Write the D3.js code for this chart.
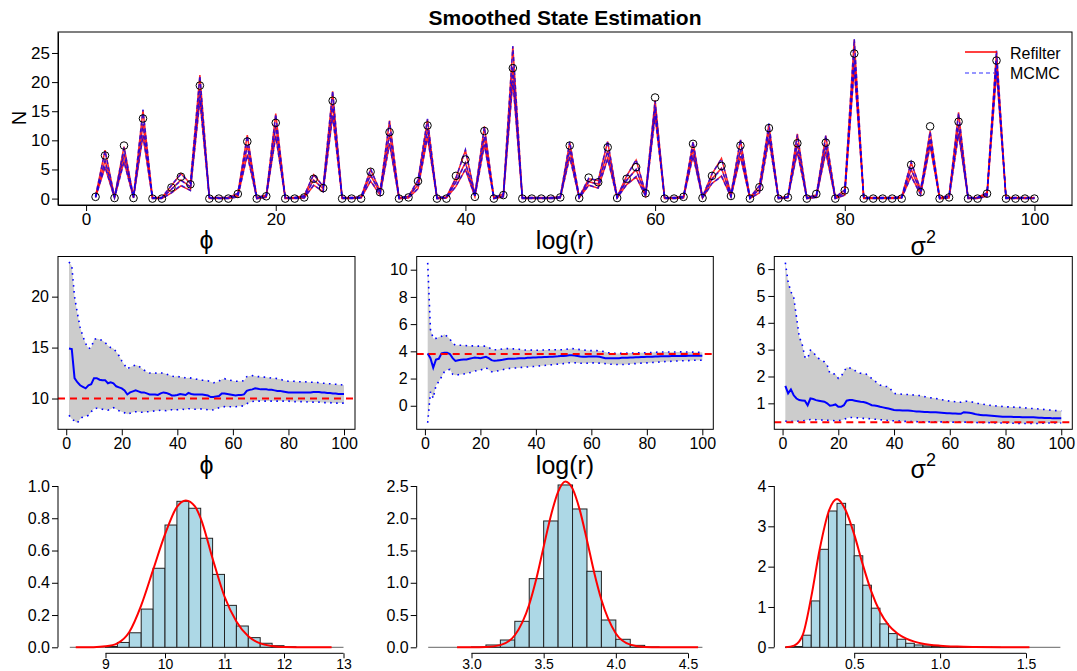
<!DOCTYPE html>
<html><head><meta charset="utf-8">
<script src="https://cdn.jsdelivr.net/npm/d3@7"></script>
<style>
body{margin:0;background:#fff}
text{font-family:"Liberation Sans",Arial,"DejaVu Sans",sans-serif;fill:#000}
.ax17 text{font-size:17px}
.ax16 text{font-size:16px}
.ax14 text{font-size:14px}
</style>
</head><body>
<svg id="c" width="1077" height="671"></svg>
<script>
// ---------- DATA ----------
const timeSteps = d3.range(1, 101);
const observedN = [0.3,7.4,0.1,9.1,0.1,13.75,0,0,1.9,3.75,
 2.45,19.4,0,0,0,0.8,9.8,0,0.4,13.0,
 0,0,0.2,3.4,1.8,16.8,0,0,0,4.6,
 1.1,11.4,0,0.2,3.0,12.55,0,0,3.9,6.7,
 0.3,11.6,0,0.6,22.4,0,0,0,0,0.2,
 9.1,0.1,3.6,2.8,8.8,0.1,3.4,5.4,0.9,17.35,
 0,0,0.3,9.4,0.1,3.9,5.6,0.45,9.1,0,
 1.95,12.1,0,0.2,9.5,0,0.8,9.6,0,1.4,
 24.9,0,0,0,0,0,5.8,1.1,12.4,0,
 0.2,13.2,0,0,0.85,23.7,0,0,0,0];
const refilterMean = [0.3,6.6,0.2,7.6,0.2,12.8,0.1,0.1,1.6,3.2,
 2.0,18.7,0.1,0.1,0.1,0.6,9.2,0.1,0.4,12.6,
 0.1,0.1,0.3,3.2,1.7,16.2,0.1,0.1,0.2,4.0,
 1.0,11.2,0.1,0.3,2.4,12.0,0.1,0.2,2.9,6.2,
 0.5,10.6,0.1,0.5,22.6,0.1,0.1,0.1,0.1,0.2,
 8.4,0.2,2.9,2.5,8.2,0.2,3.2,5.0,0.6,15.5,
 0.1,0.1,0.3,8.5,0.2,3.4,5.2,0.5,8.4,0.1,
 1.6,11.6,0.1,0.2,9.5,0.1,0.4,9.3,0.1,1.0,
 24.2,0.1,0.1,0.1,0.1,0.2,5.0,1.1,10.2,0.1,
 0.3,12.8,0.1,0.1,0.7,23.6,0.1,0.1,0.1,0.1];
const refilterHi = [0.4,8.3,0.3,8.9,0.3,15.2,0.2,0.2,2.2,4.3,
 2.6,21.2,0.2,0.2,0.2,0.9,10.9,0.2,0.6,14.6,
 0.2,0.2,0.5,4.1,2.1,18.4,0.2,0.2,0.3,5.0,
 1.3,13.4,0.2,0.4,3.1,13.6,0.2,0.3,3.6,8.3,
 0.7,12.4,0.2,0.8,26.1,0.2,0.2,0.2,0.2,0.3,
 9.7,0.3,3.4,3.1,9.8,0.3,3.9,6.6,0.9,16.9,
 0.2,0.2,0.4,9.7,0.3,4.2,6.9,0.8,10.1,0.2,
 2.2,12.8,0.2,0.3,11.1,0.2,0.6,10.8,0.2,1.5,
 27.3,0.2,0.2,0.2,0.2,0.3,6.2,1.5,11.6,0.2,
 0.5,14.8,0.2,0.2,1.0,25.3,0.2,0.2,0.2,0.2];
const refilterLo = [0.2,5.4,0.1,6.4,0.1,10.8,0,0,1.0,2.2,
 1.4,16.9,0,0,0,0.3,7.6,0,0.2,10.8,
 0,0,0.1,2.3,1.2,14.3,0,0,0.1,3.0,
 0.6,9.5,0,0.1,1.7,10.6,0,0.1,2.1,5.0,
 0.3,9.3,0,0.3,20.2,0,0,0,0,0.1,
 7.2,0.1,2.3,1.8,6.9,0.1,2.4,3.7,0.4,14.2,
 0,0,0.1,7.4,0.1,2.6,3.9,0.3,7.2,0,
 1.0,10.3,0,0.1,8.1,0,0.2,8.0,0,0.6,
 22.4,0,0,0,0,0.1,3.9,0.7,9.1,0,
 0.1,11.2,0,0,0.4,21.8,0,0,0,0];
const mcmcMean = [0.3,6.5,0.2,7.7,0.2,12.9,0.1,0.1,1.6,3.1,
 2.0,18.6,0.1,0.1,0.1,0.6,9.1,0.1,0.4,12.5,
 0.1,0.1,0.3,3.1,1.7,16.3,0.1,0.1,0.2,4.1,
 1.0,11.1,0.1,0.3,2.5,12.1,0.1,0.2,2.8,6.1,
 0.5,10.7,0.1,0.5,22.7,0.1,0.1,0.1,0.1,0.2,
 8.3,0.2,2.9,2.4,8.1,0.2,3.1,5.0,0.6,15.6,
 0.1,0.1,0.3,8.4,0.2,3.3,5.1,0.5,8.5,0.1,
 1.6,11.5,0.1,0.2,9.4,0.1,0.4,9.2,0.1,1.0,
 24.3,0.1,0.1,0.1,0.1,0.2,5.1,1.1,10.3,0.1,
 0.3,12.7,0.1,0.1,0.7,23.5,0.1,0.1,0.1,0.1];
const mcmcHi = [0.4,8.2,0.3,8.8,0.3,15.3,0.2,0.2,2.3,4.2,
 2.7,21.1,0.2,0.2,0.2,0.9,10.8,0.2,0.6,14.5,
 0.2,0.2,0.5,4.2,2.1,18.5,0.2,0.2,0.3,5.1,
 1.3,13.3,0.2,0.4,3.2,13.7,0.2,0.3,3.5,8.4,
 0.7,12.3,0.2,0.8,26.2,0.2,0.2,0.2,0.2,0.3,
 9.8,0.3,3.5,3.1,9.9,0.3,3.8,6.7,0.9,16.8,
 0.2,0.2,0.4,9.8,0.3,4.3,6.8,0.8,10.2,0.2,
 2.2,12.9,0.2,0.3,11.0,0.2,0.6,10.9,0.2,1.5,
 27.4,0.2,0.2,0.2,0.2,0.3,6.3,1.5,11.5,0.2,
 0.5,14.7,0.2,0.2,1.0,25.4,0.2,0.2,0.2,0.2];
const mcmcLo = [0.2,5.5,0.1,6.3,0.1,10.9,0,0,1.0,2.3,
 1.4,17.0,0,0,0,0.3,7.5,0,0.2,10.7,
 0,0,0.1,2.3,1.2,14.2,0,0,0.1,3.1,
 0.6,9.4,0,0.1,1.7,10.7,0,0.1,2.1,5.1,
 0.3,9.2,0,0.3,20.3,0,0,0,0,0.1,
 7.1,0.1,2.3,1.8,6.8,0.1,2.4,3.8,0.4,14.1,
 0,0,0.1,7.3,0.1,2.6,3.8,0.3,7.3,0,
 1.0,10.2,0,0.1,8.0,0,0.2,8.1,0,0.6,
 22.5,0,0,0,0,0.1,3.8,0.7,9.2,0,
 0.1,11.1,0,0,0.4,21.9,0,0,0,0];

// parameter traces (mean, upper, lower) over time
const phiMean = [14.9,14.85,12.0,11.6,11.3,11.15,11.0,11.3,11.4,12.0,
 12.0,11.85,11.8,11.8,11.5,11.6,11.5,11.2,11.1,11.0,
 10.8,10.4,10.6,10.7,10.8,10.7,10.6,10.6,10.5,10.4,
 10.4,10.4,10.35,10.5,10.6,10.55,10.45,10.3,10.3,10.35,
 10.45,10.4,10.35,10.55,10.45,10.4,10.4,10.4,10.4,10.35,
 10.3,10.15,10.15,10.2,10.25,10.5,10.5,10.45,10.4,10.35,
 10.3,10.35,10.35,10.4,10.75,10.85,10.9,11.0,10.95,10.9,
 10.9,10.9,10.85,10.85,10.8,10.75,10.75,10.7,10.65,10.6,
 10.6,10.6,10.6,10.6,10.6,10.6,10.6,10.6,10.65,10.65,
 10.65,10.6,10.6,10.55,10.55,10.5,10.5,10.45,10.45,10.45];
const phiHi = [23.4,23.0,20.0,18.4,17.0,16.1,15.4,14.9,15.0,15.8,
 15.9,15.8,15.7,15.5,15.2,15.0,14.9,14.6,14.2,13.7,
 13.3,12.9,13.1,13.2,13.3,13.2,13.0,12.8,12.6,12.5,
 12.5,12.5,12.45,12.5,12.5,12.4,12.3,12.2,12.15,12.2,
 12.1,12.1,12.0,12.05,12.0,11.95,11.9,11.85,11.8,11.8,
 11.75,11.65,11.55,11.6,11.7,11.9,11.95,11.85,11.8,11.75,
 11.7,11.7,11.7,11.75,12.15,12.2,12.25,12.2,12.15,12.15,
 12.1,12.1,12.05,12.0,12.0,11.95,11.9,11.8,11.75,11.7,
 11.7,11.7,11.65,11.65,11.65,11.65,11.6,11.6,11.6,11.6,
 11.55,11.5,11.5,11.45,11.45,11.4,11.4,11.35,11.35,11.3];
const phiLo = [8.35,8.0,7.8,7.6,8.0,8.2,8.25,8.35,8.7,9.0,
 9.05,9.0,8.95,8.9,8.85,8.95,9.1,8.95,8.8,8.7,
 8.6,8.45,8.55,8.65,8.7,8.7,8.65,8.65,8.7,8.7,
 8.75,8.8,8.8,8.85,8.85,8.8,8.85,8.9,8.85,8.9,
 8.95,8.95,8.9,9.0,9.0,8.95,8.95,9.0,8.95,8.95,
 8.9,8.85,8.9,9.0,9.1,9.15,9.2,9.15,9.2,9.2,
 9.2,9.25,9.25,9.3,9.5,9.6,9.7,9.75,9.75,9.75,
 9.75,9.75,9.75,9.75,9.75,9.75,9.75,9.75,9.75,9.75,
 9.7,9.7,9.7,9.7,9.7,9.7,9.65,9.65,9.65,9.65,
 9.65,9.6,9.6,9.6,9.6,9.55,9.55,9.55,9.55,9.55];
const logrMean = [3.85,3.5,2.8,3.4,3.45,3.85,3.9,3.9,3.8,3.5,
 3.3,3.35,3.38,3.4,3.4,3.45,3.5,3.55,3.52,3.5,
 3.55,3.6,3.5,3.35,3.3,3.32,3.35,3.38,3.42,3.45,
 3.45,3.45,3.47,3.5,3.5,3.5,3.52,3.53,3.55,3.55,
 3.56,3.57,3.58,3.58,3.6,3.6,3.62,3.63,3.65,3.65,
 3.68,3.72,3.72,3.7,3.66,3.62,3.6,3.6,3.62,3.62,
 3.62,3.62,3.6,3.55,3.5,3.5,3.5,3.5,3.5,3.5,
 3.52,3.52,3.53,3.54,3.55,3.56,3.57,3.58,3.59,3.6,
 3.6,3.61,3.62,3.62,3.63,3.63,3.64,3.64,3.65,3.65,
 3.65,3.66,3.66,3.66,3.67,3.67,3.67,3.67,3.67,3.67];
const logrHi = [10.5,5.6,4.95,4.95,5.05,5.1,5.25,5.1,4.9,4.6,
 4.45,4.45,4.45,4.45,4.42,4.4,4.4,4.4,4.38,4.38,
 4.38,4.38,4.3,4.15,4.12,4.12,4.15,4.18,4.2,4.2,
 4.2,4.18,4.15,4.15,4.12,4.1,4.1,4.1,4.08,4.08,
 4.08,4.1,4.1,4.1,4.12,4.12,4.12,4.12,4.12,4.12,
 4.15,4.18,4.2,4.18,4.15,4.12,4.1,4.08,4.06,4.05,
 4.05,4.05,4.03,4.0,3.95,3.9,3.88,3.86,3.85,3.85,
 3.85,3.86,3.87,3.88,3.88,3.89,3.9,3.9,3.9,3.9,
 3.9,3.92,3.93,3.94,3.95,3.95,3.95,3.95,3.95,3.95,
 3.95,3.96,3.96,3.95,3.95,3.94,3.94,3.93,3.93,3.93];
const logrLo = [-1.25,1.03,0.55,1.5,1.76,2.13,2.5,2.62,2.67,2.32,
 2.25,2.28,2.3,2.33,2.38,2.42,2.48,2.55,2.6,2.62,
 2.7,2.8,2.65,2.5,2.5,2.55,2.6,2.65,2.7,2.74,
 2.75,2.77,2.78,2.8,2.82,2.84,2.85,2.87,2.88,2.9,
 2.92,2.94,2.96,2.98,3.0,3.02,3.04,3.06,3.08,3.1,
 3.12,3.16,3.18,3.16,3.14,3.13,3.12,3.12,3.14,3.15,
 3.15,3.14,3.13,3.12,3.1,3.07,3.05,3.04,3.03,3.03,
 3.03,3.04,3.05,3.07,3.09,3.1,3.12,3.13,3.14,3.15,
 3.16,3.18,3.2,3.21,3.22,3.24,3.25,3.26,3.27,3.28,
 3.29,3.3,3.31,3.32,3.32,3.33,3.34,3.34,3.35,3.35];
const s2Mean = [1.65,1.37,1.52,1.3,1.18,1.12,1.11,1.1,0.93,1.18,
 1.16,1.12,1.1,1.08,1.06,1.0,0.91,0.93,0.96,0.87,
 0.87,0.93,1.1,1.12,1.12,1.1,1.08,1.06,1.05,1.02,
 0.98,0.93,0.92,0.9,0.87,0.85,0.83,0.81,0.78,0.75,
 0.74,0.74,0.73,0.73,0.73,0.72,0.71,0.7,0.7,0.69,
 0.68,0.68,0.67,0.67,0.67,0.66,0.65,0.64,0.63,0.63,
 0.62,0.62,0.61,0.61,0.67,0.66,0.65,0.63,0.6,0.58,
 0.57,0.56,0.56,0.55,0.54,0.53,0.52,0.51,0.5,0.5,
 0.5,0.5,0.49,0.49,0.49,0.48,0.48,0.48,0.48,0.48,
 0.47,0.46,0.46,0.45,0.45,0.45,0.44,0.44,0.44,0.44];
const s2Hi = [6.24,5.52,5.15,4.96,4.22,3.47,3.22,2.73,2.67,2.98,
 2.92,2.75,2.67,2.6,2.55,2.43,2.11,2.1,2.09,1.93,
 2.0,2.18,2.34,2.32,2.3,2.22,2.14,2.12,2.1,2.09,
 2.0,1.93,1.85,1.75,1.68,1.65,1.63,1.62,1.5,1.37,
 1.36,1.35,1.34,1.33,1.33,1.32,1.31,1.3,1.29,1.28,
 1.25,1.23,1.21,1.2,1.18,1.16,1.14,1.12,1.1,1.08,
 1.07,1.06,1.05,1.04,1.06,1.08,1.07,1.05,1.02,1.0,
 0.99,0.97,0.95,0.93,0.92,0.91,0.9,0.89,0.88,0.87,
 0.87,0.86,0.86,0.85,0.85,0.84,0.83,0.82,0.81,0.81,
 0.8,0.79,0.78,0.77,0.76,0.75,0.74,0.73,0.73,0.72];
const s2Lo = [0.34,0.31,0.32,0.33,0.33,0.34,0.35,0.36,0.38,0.4,
 0.4,0.39,0.38,0.38,0.37,0.37,0.36,0.36,0.35,0.35,
 0.37,0.4,0.44,0.47,0.47,0.47,0.46,0.45,0.44,0.44,
 0.43,0.42,0.41,0.4,0.39,0.38,0.37,0.36,0.35,0.35,
 0.34,0.34,0.33,0.33,0.33,0.32,0.32,0.32,0.31,0.31,
 0.31,0.31,0.31,0.31,0.31,0.31,0.31,0.31,0.31,0.31,
 0.3,0.3,0.3,0.3,0.3,0.3,0.3,0.29,0.29,0.28,
 0.28,0.28,0.28,0.28,0.27,0.27,0.27,0.27,0.27,0.27,
 0.26,0.26,0.26,0.26,0.25,0.25,0.25,0.25,0.25,0.25,
 0.25,0.25,0.26,0.26,0.27,0.27,0.27,0.27,0.27,0.27];
const trueValues = [10, 3.8, 0.3];

// histograms (breaks + density heights) and density curves
const phiBreaks = [8.4,8.6,8.8,9.0,9.2,9.4,9.6,9.8,10.0,10.2,10.4,10.6,10.8,11.0,11.2,11.4,11.6,11.8,12.0,12.2,12.4,12.6,12.8,13.0];
const phiDensity = [0,0,0,0.005,0.03,0.09,0.237,0.49,0.758,0.905,0.862,0.676,0.452,0.26,0.132,0.06,0.025,0.01,0.003,0,0,0,0];
const phiCurveX = [8.5,8.8,9.0,9.2,9.4,9.6,9.8,10.0,10.2,10.35,10.5,10.6,10.8,11.0,11.2,11.4,11.6,11.8,12.0,12.4,12.8];
const phiCurveY = [0,0.001,0.006,0.025,0.095,0.26,0.48,0.7,0.87,0.91,0.875,0.8,0.55,0.315,0.16,0.068,0.024,0.008,0.002,0,0];
const logrBreaks = [2.7,2.8,2.9,3.0,3.1,3.2,3.3,3.4,3.5,3.6,3.7,3.8,3.9,4.0,4.1,4.2,4.3,4.4,4.5,4.6];
const logrDensity = [0,0,0,0.005,0.036,0.113,0.403,1.064,1.958,2.516,2.144,1.178,0.423,0.124,0.03,0.005,0,0,0];
const logrCurveX = [2.9,3.0,3.1,3.2,3.3,3.4,3.45,3.5,3.55,3.6,3.65,3.7,3.75,3.8,3.85,3.9,4.0,4.1,4.2,4.3,4.57];
const logrCurveY = [0,0.0003,0.004,0.034,0.187,0.664,1.07,1.56,2.04,2.41,2.57,2.46,2.13,1.66,1.16,0.737,0.215,0.042,0.005,0.0003,0];
const s2Breaks = [0.1,0.15,0.2,0.25,0.3,0.35,0.4,0.45,0.5,0.55,0.6,0.65,0.7,0.75,0.8,0.85,0.9,0.95,1.0,1.05,1.1,1.15,1.2,1.25,1.3,1.35,1.4,1.45,1.5,1.55,1.6,1.65,1.7];
const s2Density = [0.005,0.02,0.3,1.15,2.43,3.38,3.57,3.04,2.27,1.54,0.97,0.58,0.34,0.2,0.1,0.058,0.033,0.02,0.01,0.006,0.004,0.003,0.002,0.001,0.001,0,0,0,0,0,0,0];
const s2CurveX = [0.1,0.15,0.2,0.25,0.3,0.35,0.4,0.45,0.5,0.55,0.6,0.65,0.7,0.75,0.8,0.85,0.9,1.0,1.1,1.2,1.35,1.52];
const s2CurveY = [0,0.04,0.3,1.25,2.45,3.35,3.68,3.4,2.8,2.05,1.38,0.88,0.55,0.35,0.22,0.14,0.09,0.04,0.018,0.008,0.002,0];

const topYTicks = [0,5,10,15,20,25];
const timeTicks = [0,20,40,60,80,100];
const phiTraceTicks = [10,15,20];
const logrTraceTicks = [0,2,4,6,8,10];
const s2TraceTicks = [1,2,3,4,5,6];
const phiHistXTicks = [9,10,11,12,13];
const phiHistYTicks = [0,0.2,0.4,0.6,0.8,1.0];
const logrHistXTicks = [3.0,3.5,4.0,4.5];
const logrHistYTicks = [0,0.5,1.0,1.5,2.0,2.5];
const s2HistXTicks = [0.5,1.0,1.5];
const s2HistYTicks = [0,1,2,3,4];
const legendLabels = ["Refilter","MCMC"];

// ---------- DRAW ----------
const svg = d3.select("#c");
const RED = "#FF0000", BLUE = "#0000FF";

function styleAxis(g, cls){
  g.attr("font-size", null).attr("font-family", null).attr("class", cls);
  g.selectAll("line").attr("stroke", "#000");
  g.selectAll("path").attr("stroke", "#000");
}

// ===== Top panel =====
const tx = d3.scaleLinear().domain([-2.96, 103.96]).range([58, 1072]);
const ty = d3.scaleLinear().domain([-1.1, 28.6]).range([205, 32]);

svg.append("text").attr("x", 565).attr("y", 25).attr("text-anchor","middle")
  .style("font-size","21px").style("font-weight","bold").text("Smoothed State Estimation");

const gTopY = svg.append("g").attr("transform","translate(58,0)")
  .call(d3.axisLeft(ty).tickValues(topYTicks).tickSize(6).tickPadding(2).tickSizeOuter(0));
styleAxis(gTopY, "ax17");
const gTopX = svg.append("g").attr("transform","translate(0,205)")
  .call(d3.axisBottom(tx).tickValues(timeTicks).tickSize(6).tickPadding(2).tickSizeOuter(0));
styleAxis(gTopX, "ax17");

svg.append("text").attr("transform","translate(26,118) rotate(-90)").attr("text-anchor","middle")
  .style("font-size","20px").text("N");

const topLine = arr => d3.line().x((d,i)=>tx(timeSteps[i])).y(d=>ty(d))(arr);
[refilterLo, refilterMean, refilterHi].forEach(arr=>{
  svg.append("path").attr("d", topLine(arr)).attr("fill","none")
    .attr("stroke", RED).attr("stroke-opacity",0.85).attr("stroke-width",1.5);
});
[mcmcLo, mcmcMean, mcmcHi].forEach(arr=>{
  svg.append("path").attr("d", topLine(arr)).attr("fill","none")
    .attr("stroke", BLUE).attr("stroke-opacity",0.75).attr("stroke-width",1.5)
    .attr("stroke-dasharray","4,3");
});
svg.append("g").selectAll("circle").data(observedN).join("circle")
  .attr("cx",(d,i)=>tx(timeSteps[i])).attr("cy",d=>ty(d)).attr("r",3.8)
  .attr("fill","none").attr("stroke","#000").attr("stroke-width",1);

svg.append("rect").attr("x",58).attr("y",32).attr("width",1014).attr("height",173)
  .attr("fill","none").attr("stroke","#000").attr("stroke-width",1);

// legend
const leg = svg.append("g");
leg.append("line").attr("x1",965).attr("x2",997).attr("y1",52).attr("y2",52)
  .attr("stroke",RED).attr("stroke-width",1.5);
leg.append("line").attr("x1",965).attr("x2",997).attr("y1",73).attr("y2",73)
  .attr("stroke",BLUE).attr("stroke-opacity",0.55).attr("stroke-width",1.5).attr("stroke-dasharray","4,3");
leg.append("text").attr("x",1010).attr("y",59).style("font-size","16px").text(legendLabels[0]);
leg.append("text").attr("x",1010).attr("y",79).style("font-size","16px").text(legendLabels[1]);

// ===== Title helper =====
function title(cx, baseline, kind){
  const t = svg.append("text").attr("x",cx).attr("y",baseline).attr("text-anchor","middle")
    .style("font-size","25px");
  if(kind==="phi") t.text("\u03D5");
  else if(kind==="logr") t.text("log(r)");
  else {
    t.append("tspan").text("\u03C3");
    t.append("tspan").attr("dy",-12).style("font-size","18px").text("2");
  }
}

// ===== Middle row =====
const cols = [{l:58,r:355},{l:416.7,r:713.3},{l:774.3,r:1072.3}];
const traces = [
  {mean:phiMean, hi:phiHi, lo:phiLo, dom:[6.98,23.94], ticks:phiTraceTicks, kind:"phi"},
  {mean:logrMean, hi:logrHi, lo:logrLo, dom:[-1.73,10.97], ticks:logrTraceTicks, kind:"logr"},
  {mean:s2Mean, hi:s2Hi, lo:s2Lo, dom:[0.033,6.47], ticks:s2TraceTicks, kind:"s2"}
];
const midTop = 256.5, midBot = 429.3;
traces.forEach((p,k)=>{
  const c = cols[k];
  const x = d3.scaleLinear().domain([-2.96,103.96]).range([c.l,c.r]);
  const y = d3.scaleLinear().domain(p.dom).range([midBot,midTop]);
  svg.append("path").attr("d", d3.area().x((d,i)=>x(timeSteps[i])).y0((d,i)=>y(p.lo[i])).y1(d=>y(d))(p.hi))
    .attr("fill","#CCCCCC").attr("stroke","none");
  const ln = d3.line().x((d,i)=>x(timeSteps[i])).y(d=>y(d));
  [p.hi,p.lo].forEach(arr=>{
    svg.append("path").attr("d",ln(arr)).attr("fill","none").attr("stroke",BLUE)
      .attr("stroke-width",1.6).attr("stroke-dasharray","1.6,4.4");
  });
  svg.append("path").attr("d",ln(p.mean)).attr("fill","none").attr("stroke",BLUE).attr("stroke-width",2);
  svg.append("line").attr("x1",c.l).attr("x2",c.r).attr("y1",y(trueValues[k])).attr("y2",y(trueValues[k]))
    .attr("stroke",RED).attr("stroke-width",2).attr("stroke-dasharray","7,5");
  const gy = svg.append("g").attr("transform",`translate(${c.l},0)`)
    .call(d3.axisLeft(y).tickValues(p.ticks).tickSize(6).tickPadding(3).tickSizeOuter(0).tickFormat(d3.format("d")));
  styleAxis(gy,"ax16"); gy.select(".domain").remove();
  const gx = svg.append("g").attr("transform",`translate(0,${midBot})`)
    .call(d3.axisBottom(x).tickValues(timeTicks).tickSize(6).tickPadding(2).tickSizeOuter(0));
  styleAxis(gx,"ax16"); gx.select(".domain").remove();
  svg.append("rect").attr("x",c.l).attr("y",midTop).attr("width",c.r-c.l).attr("height",midBot-midTop)
    .attr("fill","none").attr("stroke","#000").attr("stroke-width",1);
  const cx = (c.l+c.r)/2;
  title(cx, p.kind==="s2"?255:249, p.kind);
});

// ===== Bottom row =====
const hists = [
  {breaks:phiBreaks, dens:phiDensity, cx:phiCurveX, cy:phiCurveY, xdom:[9,13], xr:[105.5,343.5], ytop:1.0,
   xt:phiHistXTicks, yt:phiHistYTicks, xf:d3.format("d"), yf:d3.format(".1f"), kind:"phi"},
  {breaks:logrBreaks, dens:logrDensity, cx:logrCurveX, cy:logrCurveY, xdom:[3.0,4.5], xr:[471.5,688], ytop:2.5,
   xt:logrHistXTicks, yt:logrHistYTicks, xf:d3.format(".1f"), yf:d3.format(".1f"), kind:"logr"},
  {breaks:s2Breaks, dens:s2Density, cx:s2CurveX, cy:s2CurveY, xdom:[0.5,1.5], xr:[854.2,1026], ytop:4,
   xt:s2HistXTicks, yt:s2HistYTicks, xf:d3.format(".1f"), yf:d3.format("d"), kind:"s2"}
];
const hy0 = 647.3, hyTop = 486, hAxisY = 653.3;
hists.forEach((h,k)=>{
  const c = cols[k];
  const x = d3.scaleLinear().domain(h.xdom).range(h.xr);
  const y = d3.scaleLinear().domain([0,h.ytop]).range([hy0,hyTop]);
  svg.append("line").attr("x1",x(h.breaks[0])).attr("x2",x(h.breaks[h.breaks.length-1]))
    .attr("y1",y(0)).attr("y2",y(0)).attr("stroke","#666").attr("stroke-width",1);
  svg.append("g").selectAll("rect").data(h.dens.map((d,i)=>({d,i})).filter(o=>o.d>0)).join("rect")
    .attr("x",o=>x(h.breaks[o.i])).attr("width",o=>x(h.breaks[o.i+1])-x(h.breaks[o.i]))
    .attr("y",o=>y(o.d)).attr("height",o=>y(0)-y(o.d))
    .attr("fill","#ADD8E6").attr("stroke","#222").attr("stroke-width",1);
  svg.append("path").attr("d", d3.line().curve(d3.curveMonotoneX).x((d,i)=>x(h.cx[i])).y(d=>y(d))(h.cy))
    .attr("fill","none").attr("stroke",RED).attr("stroke-width",2);
  const gy = svg.append("g").attr("transform",`translate(${c.l},0)`)
    .call(d3.axisLeft(y).tickValues(h.yt).tickSize(6).tickPadding(2).tickSizeOuter(0).tickFormat(h.yf));
  styleAxis(gy,"ax16"); gy.select(".domain").remove();
  svg.append("line").attr("x1",c.l).attr("x2",c.l).attr("y1",y(h.yt[0])).attr("y2",y(h.yt[h.yt.length-1]))
    .attr("stroke","#000");
  const gx = svg.append("g").attr("transform",`translate(0,${hAxisY})`)
    .call(d3.axisBottom(x).tickValues(h.xt).tickSize(5).tickPadding(1).tickSizeOuter(0).tickFormat(h.xf));
  styleAxis(gx,"ax14"); gx.select(".domain").remove();
  svg.append("line").attr("x1",x(h.xt[0])).attr("x2",x(h.xt[h.xt.length-1])).attr("y1",hAxisY).attr("y2",hAxisY)
    .attr("stroke","#000");
  title((c.l+c.r)/2, h.kind==="s2"?478:474, h.kind);
});
</script>
</body></html>
